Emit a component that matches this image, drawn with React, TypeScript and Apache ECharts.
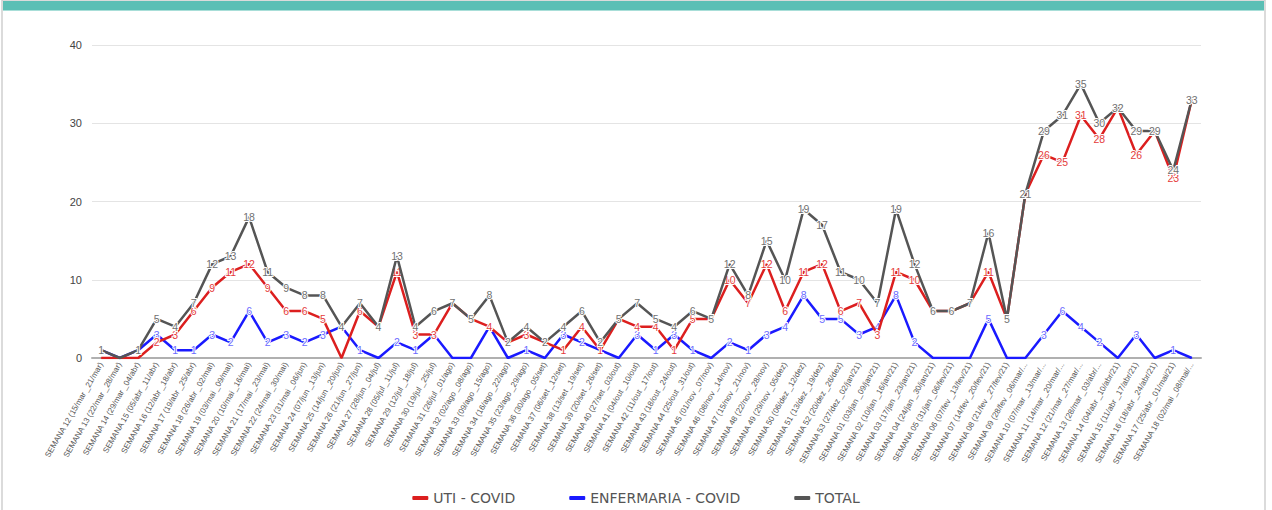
import React, { useEffect, useRef } from "react";
import * as echarts from "echarts";

const weeks: string[] = [
  "SEMANA 12 (15/mar _21/mar)", "SEMANA 13 (22/mar _28/mar)", "SEMANA 14 (29/mar _04/abr)", "SEMANA 15 (05/abr _11/abr)",
  "SEMANA 16 (12/abr _18/abr)", "SEMANA 17 (19/abr _25/abr)", "SEMANA 18 (26/abr _02/mai)", "SEMANA 19 (03/mai _09/mai)",
  "SEMANA 20 (10/mai _16/mai)", "SEMANA 21 (17/mai _23/mai)", "SEMANA 22 (24/mai _30/mai)", "SEMANA 23 (31/mai _06/jun)",
  "SEMANA 24 (07/jun _13/jun)", "SEMANA 25 (14/jun _20/jun)", "SEMANA 26 (21/jun _27/jun)", "SEMANA 27 (28/jun _04/jul)",
  "SEMANA 28 (05/jul _11/jul)", "SEMANA 29 (12/jul _18/jul)", "SEMANA 30 (19/jul _25/jul)", "SEMANA 31 (26/jul _01/ago)",
  "SEMANA 32 (02/ago _08/ago)", "SEMANA 33 (09/ago _15/ago)", "SEMANA 34 (16/ago _22/ago)", "SEMANA 35 (23/ago _29/ago)",
  "SEMANA 36 (30/ago _05/set)", "SEMANA 37 (06/set _12/set)", "SEMANA 38 (13/set _19/set)", "SEMANA 39 (20/set _26/set)",
  "SEMANA 40 (27/set _03/out)", "SEMANA 41 (04/out _10/out)", "SEMANA 42 (11/out _17/out)", "SEMANA 43 (18/out _24/out)",
  "SEMANA 44 (25/out _31/out)", "SEMANA 45 (01/nov _07/nov)", "SEMANA 46 (08/nov _14/nov)", "SEMANA 47 (15/nov _21/nov)",
  "SEMANA 48 (22/nov _28/nov)", "SEMANA 49 (29/nov _05/dez)", "SEMANA 50 (06/dez _12/dez)", "SEMANA 51 (13/dez _19/dez)",
  "SEMANA 52 (20/dez _26/dez)", "SEMANA 53 (27/dez _02/jan/21)", "SEMANA 01 (03/jan _09/jan/21)", "SEMANA 02 (10/jan _16/jan/21)",
  "SEMANA 03 (17/jan _23/jan/21)", "SEMANA 04 (24/jan _30/jan/21)", "SEMANA 05 (31/jan _06/fev/21)", "SEMANA 06 (07/fev _13/fev/21)",
  "SEMANA 07 (14/fev _20/fev/21)", "SEMANA 08 (21/fev _27/fev/21)", "SEMANA 09 (28/fev _06/mar/...", "SEMANA 10 (07/mar _13/mar/...",
  "SEMANA 11 (14/mar _20/mar/...", "SEMANA 12 (21/mar _27/mar/...", "SEMANA 13 (28/mar _03/abr/...", "SEMANA 14 (04/abr _10/abr/21)",
  "SEMANA 15 (11/abr _17/abr/21)", "SEMANA 16 (18/abr _24/abr/21)", "SEMANA 17 (25/abr _01/mai/21)", "SEMANA 18 (02/mai _08/mai/...",
];

const uti: number[] = [
  0, 0, 0, 2, 3, 6, 9, 11, 12, 9, 6, 6, 5, 0, 6, 4,
  11, 3, 3, 7, 5, 4, 2, 3, 2, 1, 4, 1, 5, 4, 4, 1,
  5, 5, 10, 7, 12, 6, 11, 12, 6, 7, 3, 11, 10, 6,
  6, 7, 11, 5, 21, 26, 25, 31, 28, 32, 26, 29, 23, 33,
];

const enfermaria: number[] = [
  1, 0, 1, 3, 1, 1, 3, 2, 6, 2, 3, 2, 3, 4, 1, 0,
  2, 1, 3, 0, 0, 4, 0, 1, 0, 3, 2, 1, 0, 3, 1, 3,
  1, 0, 2, 1, 3, 4, 8, 5, 5, 3, 4, 8, 2, 0,
  0, 0, 5, 0, 0, 3, 6, 4, 2, 0, 3, 0, 1, 0,
];

const total: number[] = [
  1, 0, 1, 5, 4, 7, 12, 13, 18, 11, 9, 8, 8, 4, 7, 4,
  13, 4, 6, 7, 5, 8, 2, 4, 2, 4, 6, 2, 5, 7, 5, 4,
  6, 5, 12, 8, 15, 10, 19, 17, 11, 10, 7, 19, 12, 6,
  6, 7, 16, 5, 21, 29, 31, 35, 30, 32, 29, 29, 24, 33,
];

const yTicks = { min: 0, max: 40, interval: 10 };

export default function App() {
  const ref = useRef<HTMLDivElement>(null);
  useEffect(() => {
    document.body.style.margin = "0";
    if (!ref.current) return;
    const chart = echarts.init(ref.current, null, { renderer: "svg" });
    const labelFor = (color: string, hideWhenTotal: boolean) => ({
      show: true,
      position: "inside",
      fontSize: 10.5,
      fontFamily: "Liberation Sans, Arial, sans-serif",
      color,
      textBorderColor: "#ffffff",
      textBorderWidth: 2,
      formatter: (p: any) => {
        if (p.value === 0) return "";
        if (hideWhenTotal && p.value === total[p.dataIndex]) return "";
        return String(p.value);
      },
    });
    const mkSeries = (name: string, data: number[], color: string, lblColor: string, z: number, hide: boolean) => ({
      name,
      type: "line",
      data,
      symbol: "circle",
      symbolSize: 1,
      z,
      lineStyle: { color, width: 2.5 },
      itemStyle: { color },
      label: labelFor(lblColor, hide),
      emphasis: { disabled: true },
    });
    chart.setOption({
      animation: false,
      backgroundColor: "#ffffff",
      graphic: [
        { type: "rect", shape: { x: 2, y: 0, width: 1263, height: 512 }, style: { fill: "none", stroke: "#d0d0d0", lineWidth: 1.5 }, silent: true },
        { type: "rect", shape: { x: 3, y: 1, width: 1261, height: 9 }, style: { fill: "#5bbfb5" }, silent: true },
        { type: "rect", shape: { x: 3, y: 10, width: 1261, height: 1 }, style: { fill: "#a8ded8" }, silent: true },
      ],
      legend: {
        bottom: 0,
        left: "center",
        icon: "roundRect",
        itemWidth: 16,
        itemHeight: 4,
        itemGap: 54,
        textStyle: { fontSize: 14, color: "#555", fontFamily: "DejaVu Sans, sans-serif" },
        data: ["UTI - COVID", "ENFERMARIA - COVID", "TOTAL"],
      },
      grid: { left: 92, right: 71, top: 45, bottom: 152, containLabel: false },
      xAxis: {
        type: "category",
        data: weeks,
        boundaryGap: true,
        axisLine: { show: true, lineStyle: { color: "#b0b0b0", width: 2 } },
        axisTick: { show: false },
        axisLabel: {
          interval: 0,
          rotate: 60,
          fontSize: 8,
          color: "#555",
          margin: 5,
          fontFamily: "Liberation Sans, Arial, sans-serif",
        },
      },
      yAxis: {
        type: "value",
        min: yTicks.min,
        max: yTicks.max,
        interval: yTicks.interval,
        axisLine: { show: false },
        axisTick: { show: false },
        axisLabel: { fontSize: 11, color: "#444", margin: 10, fontFamily: "Liberation Sans, Arial, sans-serif" },
        splitLine: { lineStyle: { color: "#e4e4e4", width: 1 } },
      },
      series: [
        mkSeries("UTI - COVID", uti, "#dc1f1f", "#e53b3b", 3, true),
        mkSeries("ENFERMARIA - COVID", enfermaria, "#1a1aff", "#6b6bff", 2, true),
        mkSeries("TOTAL", total, "#555555", "#707070", 4, false),
      ],
    });
    return () => chart.dispose();
  }, []);
  return <div ref={ref} style={{ width: 1272, height: 510 }} />;
}
